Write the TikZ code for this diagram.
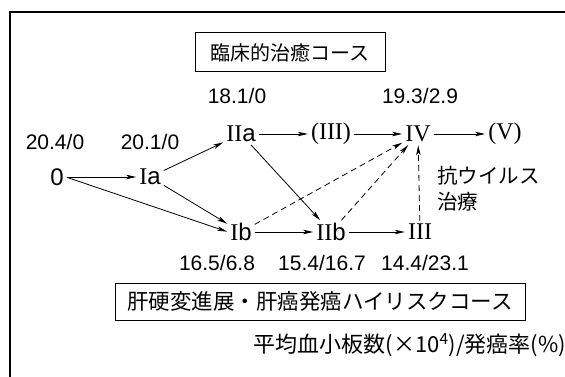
\documentclass[tikz,border=0pt]{standalone}
\usepackage{fontspec}
\setmainfont{Liberation Serif}
\newfontfamily\jp{Noto Sans CJK JP}
\newfontfamily\num{Liberation Sans}
\usetikzlibrary{arrows.meta}
\tikzset{
 lab/.style={font=\num\fontsize{21}{23}\selectfont, inner sep=0pt},
 stage/.style={font=\fontsize{24}{26}\selectfont, inner sep=2pt},
 jptext/.style={font=\jp\fontsize{20.5}{22}\selectfont, inner sep=0pt, anchor=west},
 cbox/.style={draw, line width=1pt, minimum height=39pt, inner sep=0pt},
 arr/.style={-{Stealth[length=10pt,width=4.5pt,inset=2.5pt]}, line width=0.8pt, shorten >=1pt, shorten <=1pt},
 darr/.style={arr, dash pattern=on 6pt off 4pt},
}
\begin{document}
\begin{tikzpicture}[x=1pt,y=-1pt]
\useasboundingbox (0,0) rectangle (565,377);
\draw[line width=1.5pt] (10,377) -- (10,12) -- (565,12);
% boxes
\node[cbox, minimum width=190pt, font=\jp\fontsize{20}{22}\selectfont] (top) at (290,52.5) {臨床的治癒コース};
\node[cbox, minimum width=410pt, minimum height=37pt, font=\jp\fontsize{21.5}{23}\selectfont] (bot) at (320,301.5) {肝硬変進展・肝癌発癌ハイリスクコース};
% stages
\node[stage] (n0) at (57,177) {{\num 0}};
\node[stage] (nIa) at (150,177) {I{\num a}};
\node[stage] (nIIa) at (241,134) {II{\num a}};
\node[stage] (nIIIp) at (331,134) {(III)};
\node[stage] (nIV) at (418,134) {IV};
\node[stage] (nV) at (505,134) {(V)};
\node[stage] (nIb) at (241,232) {I{\num b}};
\node[stage] (nIIb) at (331,232) {II{\num b}};
\node[stage] (nIII) at (420,232) {III};
% values
\node[lab] (v1) at (55,142) {20.4/0};
\node[lab] (v2) at (150,142) {20.1/0};
\node[lab] (v3) at (237,96) {18.1/0};
\node[lab] (v4) at (420,96) {19.3/2.9};
\node[lab] (v5) at (217,263) {16.5/6.8};
\node[lab] (v6) at (322,263) {15.4/16.7};
\node[lab] (v7) at (425,263) {14.4/23.1};
% antiviral
\node[jptext] (av1) at (437,176) {抗ウイルス};
\node[jptext] (av2) at (437,202) {治療};
% legend
\node[font=\jp\fontsize{22}{24}\selectfont, inner sep=0pt, anchor=east] (leg) at (566,345) {平均血小板数(×10\textsuperscript{4})/発癌率(\%)};
% arrows
\draw[arr] (n0.east) -- (nIa);
\draw[arr] (n0.east) -- (nIb.west);
\draw[arr] (nIa) -- (nIIa);
\draw[arr] (nIa) -- (nIb);
\draw[arr] (nIIa) -- (nIIIp);
\draw[arr] (nIIa) -- (nIIb);
\draw[arr] (nIIIp) -- (nIV);
\draw[arr] (nIV) -- (nV);
\draw[arr] (nIb) -- (nIIb);
\draw[arr] (nIIb) -- (nIII);
\draw[darr] (nIb) -- (nIV);
\draw[darr] (nIIb) -- (nIV);
\draw[darr] (nIII) -- (nIV);
\end{tikzpicture}
\end{document}
